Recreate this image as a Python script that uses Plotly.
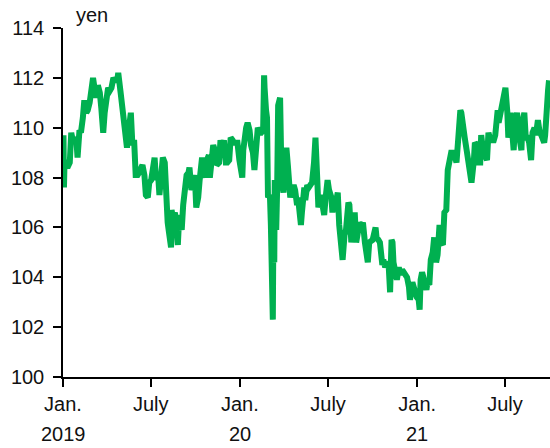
import plotly.graph_objects as go

# USD/JPY exchange rate (yen per dollar), sampled roughly twice a week
dates_2019 = ["2019-01-02","2019-01-03","2019-01-04","2019-01-08","2019-01-10","2019-01-15","2019-01-18","2019-01-22","2019-01-25","2019-01-29","2019-01-31",
              "2019-02-04","2019-02-07","2019-02-11","2019-02-14","2019-02-18","2019-02-21","2019-02-25","2019-02-28",
              "2019-03-04","2019-03-07","2019-03-11","2019-03-14","2019-03-18","2019-03-21","2019-03-25","2019-03-28",
              "2019-04-01","2019-04-04","2019-04-08","2019-04-11","2019-04-15","2019-04-18","2019-04-23","2019-04-25","2019-04-30",
              "2019-05-07","2019-05-10","2019-05-13","2019-05-16","2019-05-21","2019-05-24","2019-05-28","2019-05-31",
              "2019-06-04","2019-06-07","2019-06-11","2019-06-14","2019-06-18","2019-06-21","2019-06-25","2019-06-28",
              "2019-07-02","2019-07-05","2019-07-09","2019-07-12","2019-07-16","2019-07-19","2019-07-24","2019-07-26","2019-07-30",
              "2019-08-01","2019-08-05","2019-08-07","2019-08-12","2019-08-13","2019-08-16","2019-08-20","2019-08-23","2019-08-26","2019-08-29",
              "2019-09-03","2019-09-06","2019-09-10","2019-09-13","2019-09-17","2019-09-19","2019-09-23","2019-09-26","2019-09-30",
              "2019-10-03","2019-10-07","2019-10-10","2019-10-15","2019-10-18","2019-10-22","2019-10-25","2019-10-29","2019-10-31",
              "2019-11-05","2019-11-07","2019-11-12","2019-11-14","2019-11-19","2019-11-22","2019-11-26","2019-11-29",
              "2019-12-03","2019-12-06","2019-12-10","2019-12-13","2019-12-17","2019-12-20","2019-12-24","2019-12-27","2019-12-31"]
usd_jpy_2019 = [109.7,107.6,108.5,108.7,108.4,108.6,109.8,109.4,109.5,109.4,108.8,
                109.9,109.8,110.4,111.1,110.6,110.7,111.0,111.4,
                112.0,111.6,111.2,111.7,111.4,110.8,109.8,110.6,
                111.3,111.6,111.5,111.6,112.0,111.9,111.9,112.2,111.4,
                110.2,109.9,109.2,109.8,110.6,109.4,109.4,108.1,
                108.1,108.2,108.5,108.5,108.1,107.3,107.2,107.8,
                107.9,108.5,108.8,107.9,108.2,107.3,108.2,108.8,108.6,
                107.3,106.2,105.9,105.2,106.7,106.4,106.6,105.4,105.3,106.5,
                105.9,106.9,107.5,108.1,108.2,108.4,107.5,107.7,108.1,
                106.8,107.2,107.9,108.8,108.4,108.0,108.7,108.9,108.0,
                109.2,109.3,109.0,108.5,108.6,109.5,109.0,109.5,
                108.6,108.6,108.7,109.6,109.5,109.4,109.4,109.4,108.7]

dates_2020 = ["2020-01-03","2020-01-06","2020-01-08","2020-01-10","2020-01-14","2020-01-17","2020-01-21","2020-01-24","2020-01-28","2020-01-31",
              "2020-02-04","2020-02-07","2020-02-11","2020-02-14","2020-02-18","2020-02-20","2020-02-21","2020-02-24","2020-02-26","2020-02-28",
              "2020-03-03","2020-03-05","2020-03-06","2020-03-09","2020-03-10","2020-03-12","2020-03-13","2020-03-16","2020-03-18","2020-03-19",
              "2020-03-20","2020-03-24","2020-03-26","2020-03-27","2020-03-31",
              "2020-04-02","2020-04-06","2020-04-09","2020-04-14","2020-04-17","2020-04-21","2020-04-24","2020-04-28","2020-04-30",
              "2020-05-06","2020-05-08","2020-05-13","2020-05-15","2020-05-19","2020-05-22","2020-05-27","2020-05-29",
              "2020-06-02","2020-06-05","2020-06-09","2020-06-11","2020-06-16","2020-06-19","2020-06-23","2020-06-26","2020-06-30",
              "2020-07-03","2020-07-08","2020-07-10","2020-07-14","2020-07-17","2020-07-21","2020-07-24","2020-07-28","2020-07-31",
              "2020-08-04","2020-08-07","2020-08-12","2020-08-14","2020-08-18","2020-08-21","2020-08-25","2020-08-28",
              "2020-09-01","2020-09-04","2020-09-08","2020-09-11","2020-09-15","2020-09-18","2020-09-21","2020-09-24","2020-09-28",
              "2020-10-01","2020-10-07","2020-10-09","2020-10-13","2020-10-16","2020-10-21","2020-10-23","2020-10-27","2020-10-30",
              "2020-11-03","2020-11-06","2020-11-09","2020-11-11","2020-11-13","2020-11-17","2020-11-20","2020-11-24","2020-11-27",
              "2020-12-01","2020-12-04","2020-12-08","2020-12-11","2020-12-15","2020-12-17","2020-12-22","2020-12-24","2020-12-31"]
usd_jpy_2020 = [108.1,108.0,109.1,109.5,110.0,110.2,109.9,109.3,109.0,108.3,
                109.5,110.0,109.8,109.8,109.9,112.1,111.6,110.7,110.4,107.2,
                107.3,106.1,105.4,102.3,105.4,104.6,107.9,105.9,107.6,110.7,
                110.9,111.2,109.5,107.9,107.4,
                107.9,109.2,108.5,107.2,107.5,107.7,107.5,106.9,107.2,
                106.1,106.6,107.6,107.1,107.7,107.6,107.7,107.8,
                108.6,109.6,107.8,106.8,107.3,106.9,106.5,107.2,107.9,
                107.5,107.2,106.6,107.2,107.0,107.4,106.1,105.1,104.7,
                105.7,105.9,107.0,106.9,105.4,105.8,106.6,105.4,
                105.9,106.2,106.0,106.2,105.4,104.6,104.6,105.4,105.5,
                105.5,106.0,105.6,105.5,105.4,104.5,104.7,104.4,104.6,
                104.5,103.4,105.5,105.4,104.6,104.2,103.9,104.4,104.1,
                104.3,104.2,104.1,104.0,103.6,103.1,103.8,103.6,103.2]

dates_2021 = ["2021-01-04","2021-01-06","2021-01-08","2021-01-11","2021-01-15","2021-01-20","2021-01-22","2021-01-26","2021-01-29",
              "2021-02-02","2021-02-05","2021-02-09","2021-02-12","2021-02-16","2021-02-19","2021-02-23","2021-02-26",
              "2021-03-02","2021-03-05","2021-03-09","2021-03-12","2021-03-16","2021-03-19","2021-03-23","2021-03-26","2021-03-31",
              "2021-04-02","2021-04-06","2021-04-09","2021-04-13","2021-04-16","2021-04-20","2021-04-23","2021-04-28","2021-04-30",
              "2021-05-04","2021-05-06","2021-05-11","2021-05-13","2021-05-18","2021-05-21","2021-05-25","2021-05-28",
              "2021-06-01","2021-06-04","2021-06-08","2021-06-11","2021-06-16","2021-06-18","2021-06-22","2021-06-25","2021-06-30",
              "2021-07-02","2021-07-06","2021-07-08","2021-07-13","2021-07-16","2021-07-19","2021-07-22","2021-07-26","2021-07-30",
              "2021-08-04","2021-08-06","2021-08-10","2021-08-13","2021-08-17","2021-08-20","2021-08-24","2021-08-27","2021-08-31",
              "2021-09-03","2021-09-07","2021-09-10","2021-09-14","2021-09-17","2021-09-20","2021-09-22","2021-09-24","2021-09-28","2021-09-30"]
usd_jpy_2021 = [103.1,102.7,103.9,104.2,103.9,103.5,103.8,103.7,104.7,
                105.0,105.6,104.6,104.9,106.1,105.4,105.3,106.6,
                106.7,108.3,108.9,109.0,109.0,108.9,108.6,109.7,110.7,
                110.6,110.2,109.6,109.1,108.8,108.1,107.8,108.7,109.4,
                109.3,108.6,108.6,109.7,108.9,108.9,108.7,109.8,
                109.5,109.5,109.5,109.7,110.7,110.2,110.6,110.8,111.1,
                111.6,110.6,109.6,110.6,110.1,109.1,110.2,110.6,109.7,
                109.1,110.2,110.6,109.6,109.6,109.4,108.7,109.8,110.0,
                109.7,110.3,109.9,109.7,109.5,109.4,109.7,110.7,111.5,111.9]

dates = dates_2019 + dates_2020 + dates_2021
values = usd_jpy_2019 + usd_jpy_2020 + usd_jpy_2021

tick_dates = ["2019-01-01","2019-07-01","2020-01-01","2020-07-01","2021-01-01","2021-07-01"]
tick_text = ["Jan.","July","Jan.","July","Jan.","July"]
year_dates = ["2019-01-01","2020-01-01","2021-01-01"]
year_text = ["2019","20","21"]
y_ticks = [100,102,104,106,108,110,112,114]

FONT = "Arial, Liberation Sans, sans-serif"
GREEN = "#00B050"
TXT = "#111111"

fig = go.Figure()
fig.add_trace(go.Scatter(x=dates, y=values, mode="lines",
                         line=dict(color=GREEN, width=6), hoverinfo="x+y"))

fig.update_layout(
    width=550, height=448,
    margin=dict(l=63, r=0, t=28, b=71, autoexpand=False),
    plot_bgcolor="white", paper_bgcolor="white",
    showlegend=False,
    font=dict(family=FONT, size=20, color=TXT),
)
fig.update_xaxes(
    range=["2019-01-01", "2021-10-02"],
    tickmode="array", tickvals=tick_dates, ticktext=tick_text,
    ticks="outside", ticklen=8, tickwidth=1.5, tickcolor="black",
    showline=True, linecolor="black", linewidth=1.5,
    showgrid=False, zeroline=False, automargin=False,
    tickfont=dict(size=20, family=FONT, color=TXT),
)
fig.update_yaxes(
    range=[100, 114],
    tickmode="array", tickvals=y_ticks,
    ticks="outside", ticklen=8, tickwidth=1.5, tickcolor="black",
    showline=True, linecolor="black", linewidth=1.5,
    showgrid=False, zeroline=False, automargin=False,
    tickfont=dict(size=20, family=FONT, color=TXT),
    ticklabelstandoff=5,
)
for d, t in zip(year_dates, year_text):
    fig.add_annotation(x=d, xref="x", y=-0.163, yref="paper", text=t,
                       showarrow=False, xanchor="center", yanchor="middle",
                       font=dict(size=20, family=FONT, color=TXT))
fig.add_annotation(x=0.022, xref="paper", y=1.037, yref="paper", text="yen",
                   showarrow=False, xanchor="left", yanchor="middle",
                   font=dict(size=20, family=FONT, color=TXT))

# remove the default page margin so the 550x448 figure fills the window exactly
fig.write_html("out.html",
               config={"displayModeBar": False},
               post_script="document.body.style.margin='0';document.body.style.overflow='hidden';")
